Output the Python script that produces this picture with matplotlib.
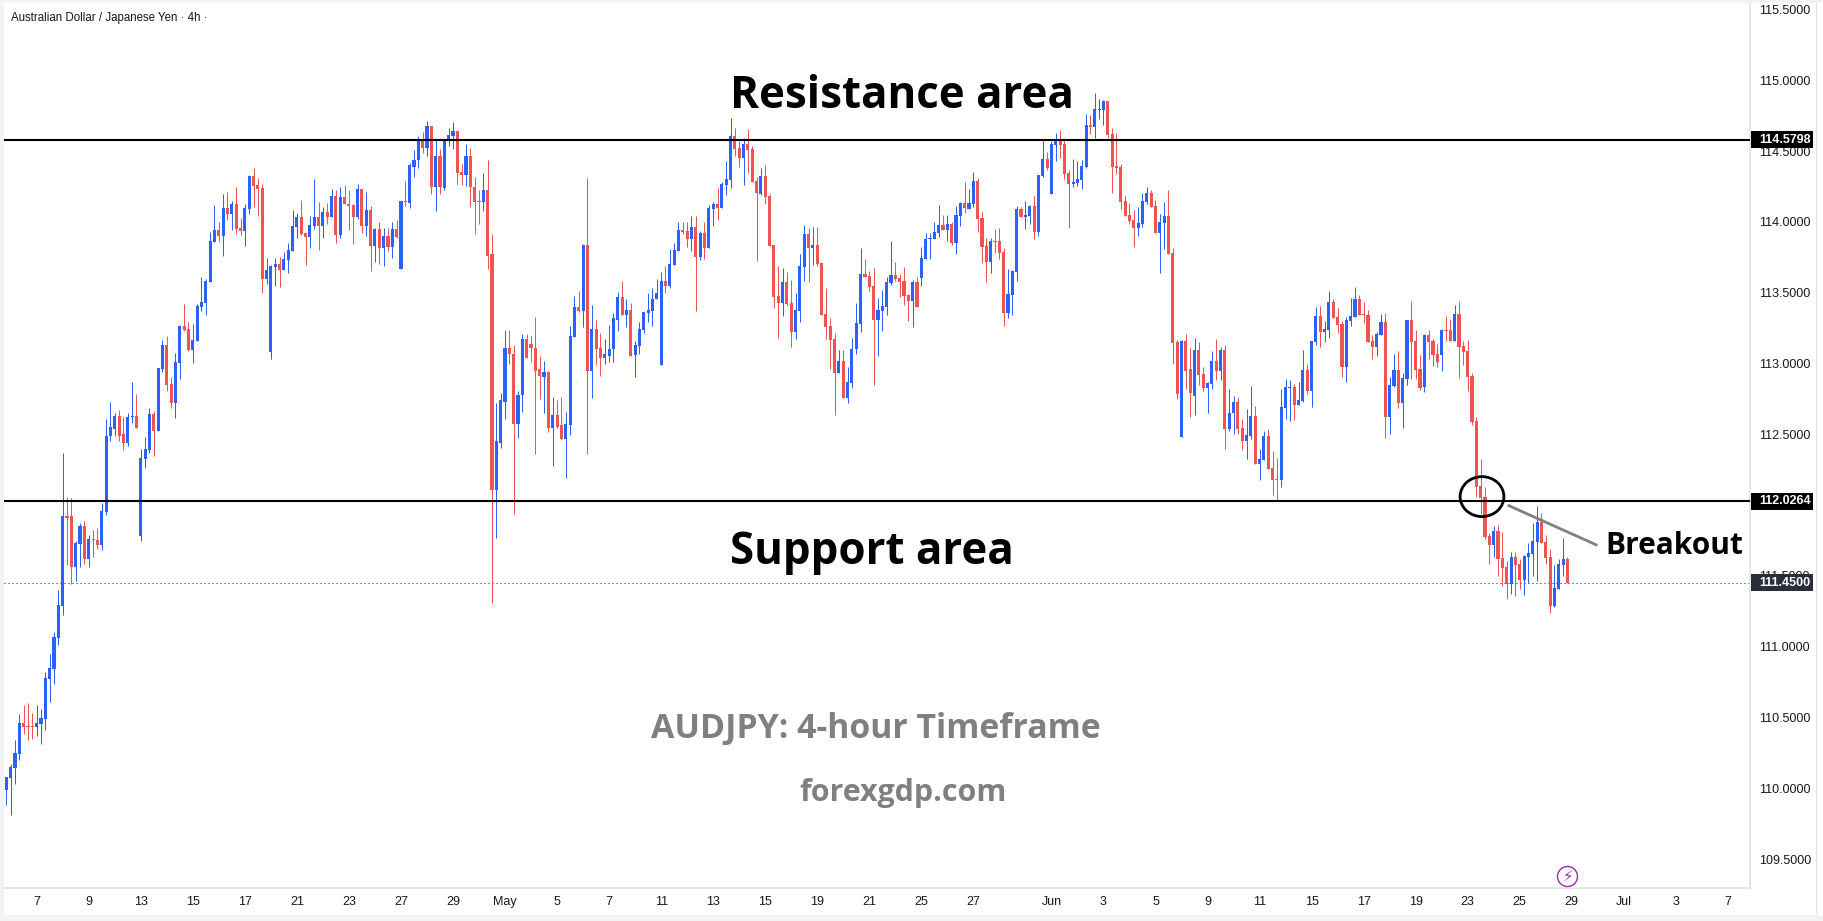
import matplotlib
matplotlib.use('Agg')
import matplotlib.pyplot as plt
import numpy as np
from matplotlib.patches import Ellipse, Rectangle
from matplotlib.transforms import blended_transform_factory

opens = [
 109.985,110.07,110.145,110.24,110.46,110.44,110.435,110.43,110.455,110.49,
 110.77,110.84,111.06,111.29,111.92,111.92,111.56,111.725,111.85,111.62,
 111.76,111.755,111.72,111.95,112.485,112.54,112.63,112.5,112.44,112.62,
 112.63,111.78,112.325,112.39,112.64,112.52,112.96,113.13,112.855,112.72,
 113.005,113.265,113.245,113.095,113.16,113.40,113.43,113.575,113.86,113.94,
 113.90,114.10,114.055,114.125,113.955,113.935,114.09,114.325,114.26,114.24,
 113.6,113.08,113.68,113.70,113.66,113.73,113.795,113.965,114.035,113.92,
 113.895,113.97,114.035,113.97,114.07,114.035,114.18,113.905,114.175,114.13,
 114.12,114.035,114.23,113.97,114.085,113.83,113.95,113.815,113.90,113.82,
 113.95,113.67,114.15,114.135,114.385,114.44,114.585,114.52,114.675,114.25,
 114.465,114.24,114.57,114.605,114.645,114.353,114.328,114.466,114.25,114.15,
 114.144,114.227,113.77,112.11,112.44,112.73,113.11,113.07,112.57,112.775,
 113.17,113.135,113.11,112.96,112.907,112.943,112.547,112.633,112.563,112.47,
 112.563,113.19,113.4,113.37,113.84,112.95,113.247,113.11,113.036,113.056,
 113.1,113.31,113.47,113.346,113.381,113.059,113.127,113.24,113.358,113.373,
 113.454,112.986,113.585,113.55,113.698,113.796,113.945,113.937,113.882,113.965,
 113.754,113.922,113.817,114.094,114.129,114.099,114.262,114.297,114.607,114.52,
 114.451,114.552,114.517,114.29,114.2,114.325,114.184,113.84,113.479,113.424,
 113.577,113.429,113.225,113.373,113.683,113.917,113.817,113.839,113.711,113.353,
 113.268,113.17,112.93,113.021,112.759,112.865,113.099,113.28,113.635,113.62,
 113.55,113.31,113.373,113.401,113.57,113.628,113.605,113.585,113.487,113.444,
 113.578,113.607,113.74,113.882,113.882,113.924,113.98,113.945,113.987,113.853,
 114.044,114.136,114.093,114.128,114.291,114.03,113.832,113.72,113.868,113.868,
 113.79,113.36,113.487,113.649,114.093,114.037,114.044,114.114,113.931,114.326,
 114.446,114.2,114.545,114.573,114.552,114.347,114.27,114.277,114.298,114.39,
 114.686,114.672,114.792,114.792,114.855,114.622,114.396,114.39,114.15,114.051,
 114.016,113.959,113.987,114.143,114.206,114.114,113.924,113.994,114.044,113.783,
 113.155,112.478,113.162,112.958,112.774,113.092,112.929,112.824,112.852,113.021,
 112.95,113.092,112.535,112.648,112.725,112.542,112.45,112.485,112.626,112.288,
 112.316,112.485,112.26,112.182,112.175,112.683,112.824,112.831,112.704,112.732,
 112.951,112.803,113.155,113.339,113.226,113.24,113.437,113.331,113.281,112.977,
 113.302,113.33,113.458,113.352,113.345,113.161,113.119,113.203,113.295,112.624,
 112.843,112.956,112.723,112.893,113.309,113.161,112.963,112.836,113.203,113.161,
 113.069,113.062,113.239,113.239,113.161,113.352,113.126,113.09,112.914,112.596,
 112.137,112.059,111.784,111.72,111.819,111.629,111.565,111.445,111.636,111.586,
 111.473,111.636,111.657,111.742,111.883,111.742,111.636,111.29,111.41,111.579,111.622]
closes = [
 110.08,110.15,110.25,110.46,110.435,110.435,110.43,110.46,110.5,110.78,
 110.85,111.07,111.295,111.92,111.91,111.56,111.73,111.85,111.62,111.76,
 111.755,111.72,111.96,112.485,112.55,112.63,112.49,112.44,112.62,112.63,
 112.545,112.33,112.395,112.64,112.52,112.97,113.13,112.85,112.72,113.01,
 113.265,113.235,113.095,113.165,113.405,113.435,113.58,113.865,113.94,113.90,
 114.10,114.055,114.125,113.95,113.935,114.10,114.325,114.255,114.23,113.6,
 113.66,113.69,113.70,113.66,113.74,113.80,113.97,114.035,113.915,113.895,
 113.98,114.035,113.97,114.07,114.035,114.18,113.905,114.175,114.125,114.11,
 114.035,114.23,113.97,114.085,113.83,113.95,113.815,113.90,113.82,113.95,
 113.895,114.15,114.14,114.40,114.44,114.585,114.52,114.675,114.25,114.465,
 114.245,114.58,114.615,114.645,114.345,114.328,114.466,114.25,114.144,114.144,
 114.227,113.76,112.11,112.45,112.74,113.11,113.065,112.57,112.78,113.17,
 113.04,113.11,112.95,112.91,112.943,112.547,112.633,112.555,112.47,112.57,
 113.197,113.4,113.37,113.84,112.95,113.247,113.106,113.04,113.064,113.106,
 113.318,113.47,113.346,113.381,113.054,113.134,113.247,113.366,113.381,113.459,
 113.5,113.585,113.55,113.706,113.804,113.945,113.93,113.882,113.965,113.754,
 113.922,113.817,114.099,114.129,114.099,114.27,114.305,114.607,114.517,114.451,
 114.552,114.509,114.282,114.204,114.325,114.177,113.832,113.472,113.424,113.577,
 113.421,113.225,113.381,113.691,113.917,113.817,113.839,113.703,113.346,113.26,
 113.165,112.93,113.021,112.759,112.872,113.106,113.288,113.635,113.613,113.542,
 113.31,113.381,113.409,113.577,113.628,113.6,113.577,113.48,113.444,113.578,
 113.402,113.748,113.882,113.889,113.931,113.98,113.945,113.987,113.853,114.051,
 114.136,114.1,114.136,114.291,114.023,113.825,113.72,113.868,113.86,113.783,
 113.36,113.494,113.656,114.093,114.037,114.051,114.114,113.931,114.333,114.446,
 114.382,114.552,114.573,114.545,114.34,114.27,114.284,114.305,114.396,114.686,
 114.672,114.799,114.799,114.855,114.615,114.39,114.382,114.143,114.044,114.009,
 113.959,113.994,114.15,114.206,114.107,113.924,114.001,114.044,113.776,113.148,
 112.788,113.162,112.95,112.79,113.092,112.922,112.824,112.859,113.021,112.95,
 113.092,112.535,112.654,112.725,112.535,112.45,112.492,112.626,112.288,112.323,
 112.485,112.252,112.175,112.175,112.69,112.831,112.831,112.704,112.739,112.951,
 112.803,113.162,113.339,113.226,113.247,113.437,113.324,113.275,112.977,113.309,
 113.338,113.458,113.345,113.345,113.154,113.119,113.21,113.295,112.624,112.85,
 112.956,112.723,112.9,113.309,113.154,112.956,112.829,113.203,113.154,113.062,
 113.013,113.239,113.233,113.161,113.352,113.119,113.083,112.907,112.589,112.13,
 112.052,111.777,111.72,111.819,111.622,111.558,111.445,111.636,111.579,111.473,
 111.643,111.664,111.749,111.883,111.735,111.629,111.29,111.417,111.586,111.622,111.45]
highs = [
 110.08,110.17,110.34,110.525,110.59,110.6,110.53,110.59,110.56,110.82,
 110.95,111.105,111.40,112.37,112.06,112.05,111.75,111.875,111.89,111.79,
 111.825,111.84,112.015,112.605,112.73,112.647,112.675,112.625,112.65,112.87,
 112.785,112.395,112.48,112.685,112.665,112.97,113.165,113.195,112.905,113.075,
 113.27,113.42,113.295,113.28,113.42,113.61,113.60,113.93,114.12,114.0,
 114.2,114.21,114.145,114.245,114.03,114.125,114.33,114.38,114.31,114.27,
 113.745,113.695,113.745,113.75,113.79,113.85,114.085,114.06,114.155,113.925,
 114.04,114.30,114.14,114.105,114.135,114.23,114.225,114.245,114.26,114.225,
 114.125,114.27,114.23,114.21,114.11,113.955,114.0,113.955,113.955,114.0,
 114.01,114.15,114.29,114.415,114.505,114.61,114.635,114.71,114.68,114.585,
 114.515,114.58,114.665,114.705,114.645,114.41,114.55,114.52,114.315,114.227,
 114.345,114.44,113.917,112.72,112.795,113.24,113.24,113.13,112.805,113.205,
 113.21,113.197,113.325,113.056,113.02,112.95,112.76,112.74,112.767,112.66,
 113.268,113.474,113.514,113.847,114.31,113.414,113.31,113.217,113.17,113.275,
 113.358,113.507,113.585,113.459,113.429,113.162,113.295,113.366,113.5,113.535,
 113.598,113.648,113.69,113.811,113.852,114.0,114.0,114.0,114.043,114.043,
 113.937,114.0,114.121,114.141,114.24,114.282,114.431,114.733,114.663,114.58,
 114.592,114.658,114.537,114.32,114.38,114.403,114.2,113.84,113.686,113.675,
 113.648,113.592,113.5,113.776,113.98,113.958,113.965,113.965,113.711,113.535,
 113.323,113.217,113.092,113.092,112.978,113.182,113.429,113.817,113.741,113.655,
 113.678,113.464,113.522,113.613,113.867,113.718,113.635,113.684,113.494,113.592,
 113.614,113.825,113.924,113.924,114.0,114.121,114.051,114.051,114.0,114.114,
 114.143,114.284,114.234,114.354,114.312,114.072,113.889,113.889,113.952,113.959,
 113.818,113.67,113.663,114.114,114.107,114.15,114.121,114.185,114.333,114.58,
 114.495,114.573,114.629,114.65,114.58,114.368,114.446,114.432,114.439,114.763,
 114.756,114.911,114.869,114.862,114.855,114.665,114.629,114.411,114.185,114.136,
 114.086,114.107,114.206,114.248,114.227,114.157,114.056,114.143,114.227,113.818,
 113.169,113.169,113.205,113.113,113.183,113.155,112.972,112.866,113.085,113.176,
 113.12,113.134,112.817,112.774,112.76,112.605,112.676,112.838,112.697,112.393,
 112.52,112.541,112.379,112.33,112.817,112.894,112.887,112.852,112.866,113.092,
 113.0,113.162,113.402,113.409,113.303,113.515,113.458,113.395,113.302,113.33,
 113.465,113.542,113.486,113.436,113.38,113.203,113.225,113.352,113.359,112.907,
 113.069,113.09,112.935,113.309,113.444,113.239,113.062,113.21,113.239,113.175,
 113.14,113.246,113.337,113.316,113.415,113.444,113.161,113.168,112.935,112.624,
 112.328,112.13,111.805,111.854,111.862,111.812,111.607,111.671,111.671,111.622,
 111.65,111.735,111.876,111.996,111.946,111.791,111.692,111.579,111.622,111.77,111.636]
lows = [
 109.88,109.81,110.03,110.2,110.385,110.34,110.35,110.37,110.31,110.41,
 110.61,110.74,111.01,111.225,111.58,111.44,111.465,111.56,111.585,111.56,
 111.635,111.69,111.685,111.927,112.45,112.485,112.455,112.39,112.42,112.58,
 112.545,111.75,112.26,112.37,112.345,112.52,112.94,112.805,112.685,112.615,
 112.89,113.23,113.09,113.005,113.16,113.37,113.34,113.575,113.86,113.86,
 113.76,114.015,113.94,113.915,113.91,113.83,114.055,114.105,114.04,113.5,
 113.56,113.03,113.55,113.54,113.66,113.64,113.795,113.885,113.91,113.695,
 113.815,113.95,113.80,113.885,113.985,114.035,113.85,113.885,114.125,113.94,
 113.845,114.02,113.92,113.90,113.65,113.715,113.70,113.69,113.795,113.745,
 113.885,113.67,114.11,114.10,114.32,114.38,114.49,114.465,114.2,114.08,
 114.2,114.225,114.535,114.515,114.27,114.26,114.257,114.106,113.917,113.988,
 114.08,113.67,111.31,111.77,112.40,112.605,112.995,111.935,112.475,112.655,
 113.04,113.013,112.36,112.746,112.648,112.515,112.273,112.547,112.47,112.195,
 112.495,113.19,113.363,113.26,112.36,112.754,112.993,112.915,113.0,113.013,
 113.013,113.232,113.346,113.26,113.05,112.908,113.064,113.212,113.293,113.268,
 113.454,112.986,113.5,113.535,113.698,113.796,113.917,113.824,113.796,113.373,
 113.733,113.741,113.817,113.973,114.016,114.099,114.192,114.24,114.466,114.388,
 114.262,114.345,114.282,113.726,114.192,114.129,113.832,113.389,113.177,113.338,
 113.414,113.119,113.17,113.295,113.585,113.577,113.698,113.691,113.346,113.17,
 112.958,112.633,112.93,112.759,112.724,112.83,113.064,113.225,113.613,113.514,
 112.845,113.056,113.232,113.346,113.557,113.585,113.472,113.416,113.303,113.261,
 113.402,113.55,113.74,113.74,113.882,113.896,113.945,113.868,113.839,113.776,
 113.973,114.065,114.093,114.107,113.931,113.712,113.578,113.642,113.783,113.741,
 113.268,113.324,113.346,113.585,114.037,113.952,113.987,113.882,113.903,114.319,
 114.368,114.2,114.432,114.453,114.305,113.959,114.248,114.255,114.234,114.382,
 114.622,114.594,114.728,114.686,114.594,114.206,114.34,114.093,114.044,113.987,
 113.825,113.903,113.966,114.129,114.107,113.924,113.642,113.811,113.776,113.0,
 112.746,112.478,112.819,112.619,112.633,112.845,112.803,112.647,112.817,112.887,
 112.887,112.393,112.52,112.499,112.499,112.386,112.323,112.464,112.288,112.175,
 112.316,112.252,112.069,112.034,112.125,112.605,112.591,112.598,112.704,112.725,
 112.788,112.69,113.134,113.12,113.155,113.183,113.324,113.219,112.907,112.871,
 113.267,113.33,113.345,113.288,113.154,113.034,113.055,113.203,112.476,112.504,
 112.836,112.688,112.547,112.85,112.893,112.893,112.815,112.801,113.034,112.984,
 112.977,112.949,113.16,113.161,113.161,112.9,112.992,112.808,112.568,112.059,
 111.939,111.763,111.586,111.636,111.501,111.43,111.339,111.374,111.36,111.41,
 111.367,111.452,111.501,111.466,111.735,111.586,111.24,111.283,111.41,111.501,111.45]

# x axis: one label every 12 candles, except the skip before Jun
date_pos = [7,19,31,43,55,67,79,91,103,115,127,139,151,163,175,187,199,211,223,
            241,253,265,277,289,301,313,325,337,349,361,373,385,397]
date_labels = ['7','9','13','15','17','21','23','27','29','May','5','7','11','13','15','19','21','25','27',
               'Jun','3','5','9','11','15','17','19','23','25','29','Jul','3','7']
price_ticks = [109.5,110,110.5,111,111.5,112,112.5,113,113.5,114,114.5,115,115.5]

resistance = 114.5798
support = 112.0264
last_price = 111.45

W, H = 1823, 921
BLUE = '#2962ff'
RED = '#f05350'
GRID = '#e0e3eb'

def fx(px):
    return px / W

def fy(py):
    return 1 - py / H

fig = plt.figure(figsize=(W / 100, H / 100), dpi=100, facecolor='#f2f3f5')
plt.rcParams['font.family'] = ['Liberation Sans', 'DejaVu Sans']

# white page inside the light frame, open on the right
fig.add_artist(Rectangle((fx(4), fy(915)), fx(1819), 912 / H, transform=fig.transFigure,
                         facecolor='white', edgecolor='none', zorder=0))
fig.add_artist(Rectangle((fx(1816), fy(915)), fx(1), 912 / H, transform=fig.transFigure,
                         facecolor=GRID, edgecolor='none', zorder=0))

ax = fig.add_axes([fx(4), fy(888), fx(1746), 885 / H], facecolor='white', zorder=1)
ax.set_xlim(-0.54, 402.1)
ax.set_ylim(109.296, 115.546)

opens = np.array(opens)
closes = np.array(closes)
highs = np.array(highs)
lows = np.array(lows)
xs = np.arange(len(opens))
colors = [BLUE if c >= o else RED for o, c in zip(opens, closes)]

ax.vlines(xs, lows, highs, colors=colors, linewidth=0.72, zorder=3)
body = np.maximum(np.abs(closes - opens), 1 / 141.6)
ax.bar(xs, body, bottom=np.minimum(opens, closes), width=0.72, color=colors, linewidth=0, zorder=3)

# levels
ax.axhline(resistance, color='black', linewidth=1.5, zorder=4)
ax.axhline(support, color='black', linewidth=1.5, zorder=4)
ax.axhline(last_price, color='#131722', linewidth=0.72, dashes=(1, 3), zorder=2)

ax.add_patch(Ellipse((340.3, 112.06), 10.1, 0.282, fill=False, edgecolor='black', linewidth=2, zorder=5))
ax.plot([346.5, 366.6], [111.996, 111.72], color='#808080', linewidth=2, zorder=5)

# axes
for side in ['top', 'left']:
    ax.spines[side].set_visible(False)
for side in ['right', 'bottom']:
    ax.spines[side].set_color(GRID)
    ax.spines[side].set_linewidth(1.2)
ax.yaxis.tick_right()
ax.set_yticks(price_ticks)
ax.set_yticklabels(['%.4f' % p for p in price_ticks])
ax.set_xticks(date_pos)
ax.set_xticklabels(date_labels)
ax.tick_params(axis='y', length=0, pad=6.5, labelsize=9, labelcolor='#131722')
ax.tick_params(axis='x', length=0, pad=6, labelsize=9, labelcolor='#131722')

# price tags on the right scale
trans = blended_transform_factory(ax.transAxes, ax.transData)
for price, label, bg in [(resistance, '114.5798', 'black'), (support, '112.0264', 'black'),
                         (last_price, '111.4500', '#2a2e39')]:
    ax.add_patch(Rectangle((1.0005, price - 0.06), 62 / 1746, 0.12, transform=trans, facecolor=bg,
                           edgecolor='none', clip_on=False, zorder=6))
    ax.text(1.0052, price, label, transform=trans, color='white', fontsize=9, fontweight='bold',
            va='center', ha='left', clip_on=False, zorder=7)

# text on the picture
def note(px, py, s, size, color='black'):
    fig.text(fx(px), fy(py), s, fontsize=size, color=color, fontweight='bold', family='Open Sans',
             ha='center', va='center', zorder=10)

note(902, 97, 'Resistance area', 31.6)
note(872, 552, 'Support area', 31.6)
note(1674, 546, 'Breakout', 21.5)
note(876, 729, 'AUDJPY: 4-hour Timeframe', 24.4, '#808080')
note(903, 793, 'forexgdp.com', 21.9, '#808080')

fig.text(fx(11), fy(18), 'Australian Dollar / Japanese Yen \u00b7 4h \u00b7', fontsize=8.3,
         color='#131722', ha='left', va='center', zorder=10)

# purple lightning badge
ax.plot([360], [109.382], marker='o', markersize=14.4, markerfacecolor='none', markeredgecolor='#9c27b0',
        markeredgewidth=1, zorder=5)
ax.text(360, 109.382, '\u26a1', color='#9c27b0', fontsize=10.5, fontweight='bold', ha='center', va='center',
        family='DejaVu Sans', zorder=5)

fig.savefig('out.png', dpi=100, facecolor=fig.get_facecolor())
